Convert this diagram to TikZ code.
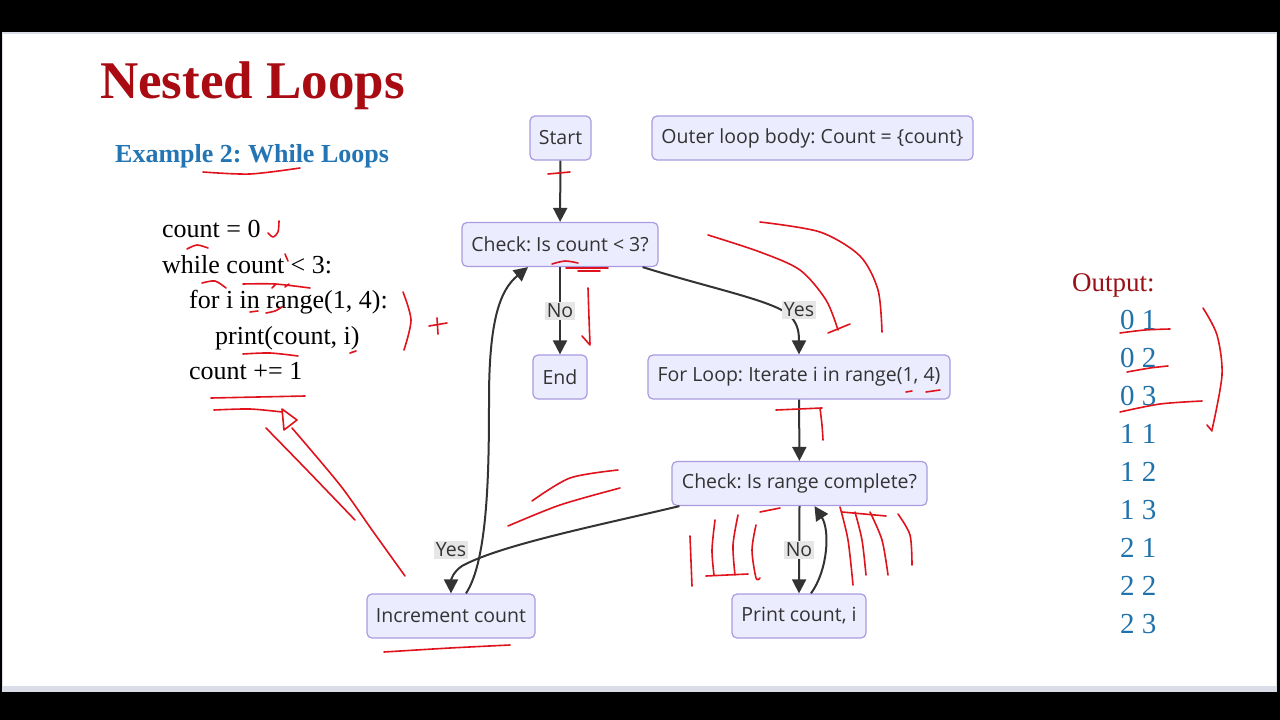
\documentclass[tikz,border=0pt]{standalone}
\usepackage{fontspec}
\setmainfont{Liberation Serif}
\newfontfamily\nodefont{Open Sans}
\usetikzlibrary{arrows.meta}
\frenchspacing
\definecolor{nodefill}{HTML}{ECECFF}
\definecolor{nodedraw}{HTML}{A99BE0}
\definecolor{edgecol}{HTML}{333333}
\definecolor{lblbg}{HTML}{E6E6E6}
\definecolor{titlered}{HTML}{A80C12}
\definecolor{subblue}{HTML}{2375B3}
\definecolor{outblue}{HTML}{1F72AC}
\definecolor{outred}{HTML}{9A1018}
\definecolor{pen}{HTML}{E0121C}
\definecolor{edgegrey}{HTML}{DADCE8}
\begin{document}
\begin{tikzpicture}[x=1pt,y=-1pt,
  box/.style={draw=nodedraw, fill=nodefill, line width=1.2pt, rounded corners=5pt,
    font=\nodefont\fontsize{19.5}{22}\selectfont, text=edgecol, minimum height=44pt, inner xsep=6pt},
  edge/.style={draw=edgecol, line width=2pt, -{Triangle[length=14pt,width=14pt]}},
  lbl/.style={fill=lblbg, font=\nodefont\fontsize{19.5}{22}\selectfont, text=edgecol, inner sep=2pt},
  code/.style={anchor=base west, font=\fontsize{26}{30}\selectfont, inner sep=0pt},
  outnum/.style={anchor=base west, font=\fontsize{29}{32}\selectfont, text=outblue, inner sep=0pt},
  annot/.style={draw=pen, line width=1.6pt, line cap=round, line join=round},
]
\useasboundingbox (0,0) rectangle (1280,720);
% frame
\fill[black] (0,0) rectangle (1280,720);
\fill[edgegrey] (2,32) rectangle (1277,692);
\fill[white] (3,34) rectangle (1276,686);

% slide texts
\node[anchor=base west, inner sep=0pt, text=titlered, font=\bfseries\fontsize{53}{60}\selectfont] (title) at (100,98) {Nested Loops};
\node[anchor=base west, inner sep=0pt, text=subblue, font=\bfseries\fontsize{26}{30}\selectfont] (sub) at (115,162) {Example 2: While Loops};
\node[code] (c1) at (162,237) {count = 0};
\node[code] (c2) at (162,273) {while count < 3:};
\node[code] (c3) at (189,308) {for i in range(1, 4):};
\node[code] (c4) at (215,344) {print(count, i)};
\node[code] (c5) at (189,379) {count += 1};

\node[anchor=base west, inner sep=0pt, text=outred, font=\fontsize{27}{30}\selectfont] (out) at (1072,291) {Output:};
\node[outnum] (o1) at (1120,329) {0 1};
\node[outnum] (o2) at (1120,367) {0 2};
\node[outnum] (o3) at (1120,405) {0 3};
\node[outnum] (o4) at (1120,443) {1 1};
\node[outnum] (o5) at (1120,481) {1 2};
\node[outnum] (o6) at (1120,519) {1 3};
\node[outnum] (o7) at (1120,557) {2 1};
\node[outnum] (o8) at (1120,595) {2 2};
\node[outnum] (o9) at (1120,633) {2 3};

% flowchart nodes
\node[box, minimum width=61pt] (start) at (560.5,138) {Start};
\node[box, minimum width=321pt] (outer) at (812.5,138) {Outer loop body: Count = \{count\}};
\node[box, minimum width=196pt] (chk) at (560,244.5) {Check: Is count < 3?};
\node[box, minimum width=54pt] (end) at (560,377) {End};
\node[box, minimum width=302pt] (for) at (799,377) {For Loop: Iterate i in range(1, 4)};
\node[box, minimum width=255pt] (rng) at (799.5,483.5) {Check: Is range complete?};
\node[box, minimum width=168pt] (inc) at (451,616) {Increment count};
\node[box, minimum width=134pt] (prt) at (799,616) {Print count, i};

% edges
\draw[edge] (start) -- (chk);
\draw[edge] (chk.south) -- (end.north);
\draw[edge] ([xshift=-16pt]chk.south east) .. controls (710,288) and (770,300) .. (788,314)
   .. controls (797,322) and (799,330) .. (for.north);
\draw[edge] (for) -- (rng);
\draw[edge] (rng.south) -- (prt.north);
\draw[edge] ([xshift=12pt]prt.north) .. controls (828,570) and (830,530) .. ([xshift=15pt]rng.south);
\draw[edge] ([xshift=8pt]rng.south west) .. controls (600,525) and (500,545) .. (462,566)
   .. controls (453,572) and (451,580) .. (inc.north);
\draw[edge] ([xshift=15pt]inc.north) .. controls (488,560) and (489,470) .. (489,400)
   .. controls (489,320) and (500,290) .. ([xshift=-32pt]chk.south);

% edge labels
\node[lbl] (no1) at (560,311) {No};
\node[lbl] (yes1) at (799,310) {Yes};
\node[lbl] (no2) at (799,550) {No};
\node[lbl] (yes2) at (451,550) {Yes};

% red pen annotations
\draw[annot] plot[smooth] coordinates {(203,172) (250,174) (300,168)};
\draw[annot] plot[smooth] coordinates {(279,221) (278,232) (273,237) (268,233)};
\draw[annot] plot[smooth] coordinates {(187,249) (197,245) (208,248)};
\draw[annot] plot[smooth] coordinates {(202,283) (215,281) (226,288)};
\draw[annot] plot[smooth] coordinates {(243,284) (275,284) (310,288)};
\draw[annot] (285,254) -- (288,261);
\draw[annot] (250,312) -- (258,311);
\draw[annot] plot[smooth] coordinates {(266,313) (275,311) (282,307)};
\draw[annot] (272,288) -- (276,284);
\draw[annot] (285,287) -- (289,284);
\draw[annot] plot[smooth] coordinates {(403,292) (411,320) (404,350)};
\draw[annot] (429,326) -- (447,323);
\draw[annot] (437,318) -- (438,334);
\draw[annot] plot[smooth] coordinates {(243,354) (270,353) (298,356)};
\draw[annot] (350,353) -- (356,351);
\draw[annot] plot[smooth] coordinates {(211,398) (258,397) (305,396)};
\draw[annot] plot[smooth] coordinates {(214,410) (250,409) (282,412)};
\draw[annot] (282,409) -- (284,430) -- (297,420) -- cycle;
\draw[annot] plot[smooth] coordinates {(266,428) (305,468) (355,520)};
\draw[annot] plot[smooth] coordinates {(292,428) (340,485) (372,530) (405,576)};
\draw[annot] (548,174) -- (570,172);
\draw[annot] plot[smooth] coordinates {(552,264) (565,261) (578,263)};
\draw[annot] (566,268) -- (608,268);
\draw[annot] (578,271) -- (600,271);
\draw[annot] plot[smooth] coordinates {(588,288) (589,318) (590,344)};
\draw[annot] (582,336) -- (590,345);
\draw[annot] plot[smooth] coordinates {(708,235) (760,252) (800,270) (826,300) (838,330)};
\draw[annot] (828,333) -- (850,324);
\draw[annot] plot[smooth] coordinates {(760,222) (820,232) (860,256) (878,290) (882,332)};
\draw[annot] (906,392) -- (912,391);
\draw[annot] (926,392) -- (940,390);
\draw[annot] (776,410) -- (822,408);
\draw[annot] plot[smooth] coordinates {(820,408) (822,425) (823,440)};
\draw[annot] plot[smooth] coordinates {(508,526) (560,505) (620,488)};
\draw[annot] plot[smooth] coordinates {(532,501) (570,478) (618,470)};
\draw[annot] (690,536) -- (692,586);
\draw[annot] plot[smooth] coordinates {(715,520) (712,550) (714,575)};
\draw[annot] plot[smooth] coordinates {(738,515) (733,545) (735,575)};
\draw[annot] plot[smooth] coordinates {(756,525) (752,550) (756,578) (760,578)};
\draw[annot] (706,576) -- (748,574);
\draw[annot] plot[smooth] coordinates {(760,512) (780,508)};
\draw[annot] plot[smooth] coordinates {(840,507) (848,540) (853,585)};
\draw[annot] plot[smooth] coordinates {(855,512) (862,540) (866,575)};
\draw[annot] plot[smooth] coordinates {(870,512) (882,540) (888,575)};
\draw[annot] (842,512) -- (886,516);
\draw[annot] plot[smooth] coordinates {(898,514) (910,535) (912,565)};
\draw[annot] plot[smooth] coordinates {(384,652) (450,648) (510,645)};
\draw[annot] plot[smooth] coordinates {(1120,333) (1145,330) (1170,329)};
\draw[annot] plot[smooth] coordinates {(1127,372) (1150,368) (1168,366)};
\draw[annot] plot[smooth] coordinates {(1120,412) (1160,404) (1202,401)};
\draw[annot] plot[smooth] coordinates {(1203,308) (1217,335) (1222,375) (1212,430)};
\draw[annot] (1207,425) -- (1212,431);
\end{tikzpicture}
\end{document}
